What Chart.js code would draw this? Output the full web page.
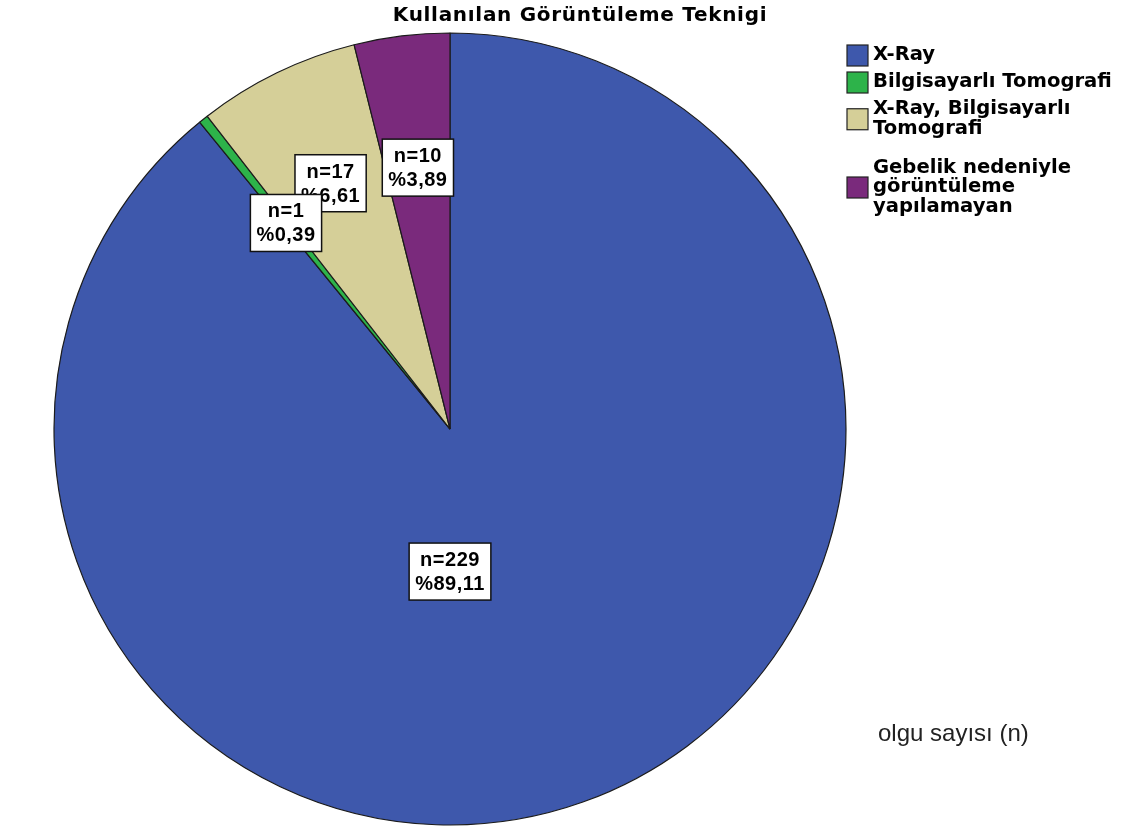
<!DOCTYPE html>
<html>
<head>
<meta charset="utf-8">
<title>Kullanılan Görüntüleme Teknigi</title>
<script src="https://cdn.jsdelivr.net/npm/chart.js@4"></script>
<style>
  html, body { margin: 0; padding: 0; background: #fff; }
  #pie { display: block; }
</style>
</head>
<body>
<canvas id="pie" width="1127" height="827"></canvas>
<script>
const categories = ['X-Ray', 'Bilgisayarlı Tomografi', 'X-Ray, Bilgisayarlı Tomografi', 'Gebelik nedeniyle görüntüleme yapılamayan'];
const counts = [229, 1, 17, 10];
const colors = ['#3e58ac', '#2db34a', '#d5cf98', '#7a2a7c'];
const chartTitle = 'Kullanılan Görüntüleme Teknigi';
const sizeNote = 'olgu sayısı (n)';

const total = counts.reduce((a, b) => a + b, 0);

// word wrap for the legend entries
function wrap(ctx, text, maxWidth) {
  const words = text.split(' ');
  const lines = [];
  let line = '';
  words.forEach(w => {
    const test = line ? line + ' ' + w : w;
    if (line && ctx.measureText(test).width > maxWidth) {
      lines.push(line);
      line = w;
    } else {
      line = test;
    }
  });
  if (line) lines.push(line);
  return lines;
}

const decorations = {
  id: 'decorations',
  afterDraw(chart) {
    const ctx = chart.ctx;
    const meta = chart.getDatasetMeta(0);

    ctx.save();

    // title
    ctx.fillStyle = '#000';
    ctx.font = 'bold 20px "DejaVu Sans"';
    ctx.letterSpacing = '0.7px';
    ctx.textAlign = 'center';
    ctx.textBaseline = 'alphabetic';
    ctx.fillText(chartTitle, 580, 21);

    // value boxes, drawn back to front
    ctx.font = 'bold 20px "Liberation Sans"';
    ctx.letterSpacing = '0.5px';
    ctx.textBaseline = 'middle';
    for (let i = meta.data.length - 1; i >= 0; i--) {
      const arc = meta.data[i];
      const span = arc.endAngle - arc.startAngle;
      let ang = (arc.startAngle + arc.endAngle) / 2;
      let r = arc.outerRadius * (span > 0.3 ? 0.69 : 0.665);
      if (span > Math.PI) {
        ang = Math.PI / 2;
        r = arc.outerRadius * 0.36;
      }
      const cx = arc.x + Math.cos(ang) * r;
      const cy = arc.y + Math.sin(ang) * r;
      const pct = (counts[i] / total * 100).toFixed(2).replace('.', ',');
      const lines = ['n=' + counts[i], '%' + pct];
      const w = Math.max(...lines.map(l => ctx.measureText(l).width)) + 12;
      const h = 57;
      ctx.fillStyle = '#fff';
      ctx.fillRect(cx - w / 2, cy - h / 2, w, h);
      ctx.strokeStyle = '#111';
      ctx.lineWidth = 1.5;
      ctx.strokeRect(cx - w / 2, cy - h / 2, w, h);
      ctx.fillStyle = '#000';
      ctx.fillText(lines[0], cx, cy - 11);
      ctx.fillText(lines[1], cx, cy + 13);
    }

    // legend
    ctx.font = 'bold 19.6px "DejaVu Sans"';
    ctx.letterSpacing = '0px';
    ctx.textAlign = 'left';
    ctx.textBaseline = 'middle';
    const lh = 19.5;
    let y = 55;
    categories.forEach((name, i) => {
      const lines = wrap(ctx, name, 250);
      const mid = y + (lines.length - 1) * lh / 2;
      ctx.fillStyle = colors[i];
      ctx.fillRect(847, mid - 10, 21, 21);
      ctx.strokeStyle = '#222';
      ctx.lineWidth = 1.2;
      ctx.strokeRect(847, mid - 10, 21, 21);
      ctx.fillStyle = '#000';
      lines.forEach((l, k) => ctx.fillText(l, 873, y + k * lh));
      y += (lines.length - 1) * lh + 27 + (lines.length > 1 ? 12 : 0);
    });

    // size note
    ctx.font = '24px "Liberation Sans"';
    ctx.fillStyle = '#222';
    ctx.fillText(sizeNote, 878, 734);

    ctx.restore();
  }
};

new Chart(document.getElementById('pie'), {
  type: 'pie',
  data: {
    labels: categories,
    datasets: [{
      data: counts,
      backgroundColor: colors,
      borderColor: '#1b1b1b',
      borderWidth: 1.2,
      hoverOffset: 0
    }]
  },
  options: {
    responsive: false,
    animation: false,
    events: [],
    radius: 396,
    layout: { padding: { left: 54, right: 281, top: 33, bottom: 2 } },
    plugins: {
      legend: { display: false },
      tooltip: { enabled: false },
      title: { display: false }
    }
  },
  plugins: [decorations]
});
</script>
</body>
</html>
